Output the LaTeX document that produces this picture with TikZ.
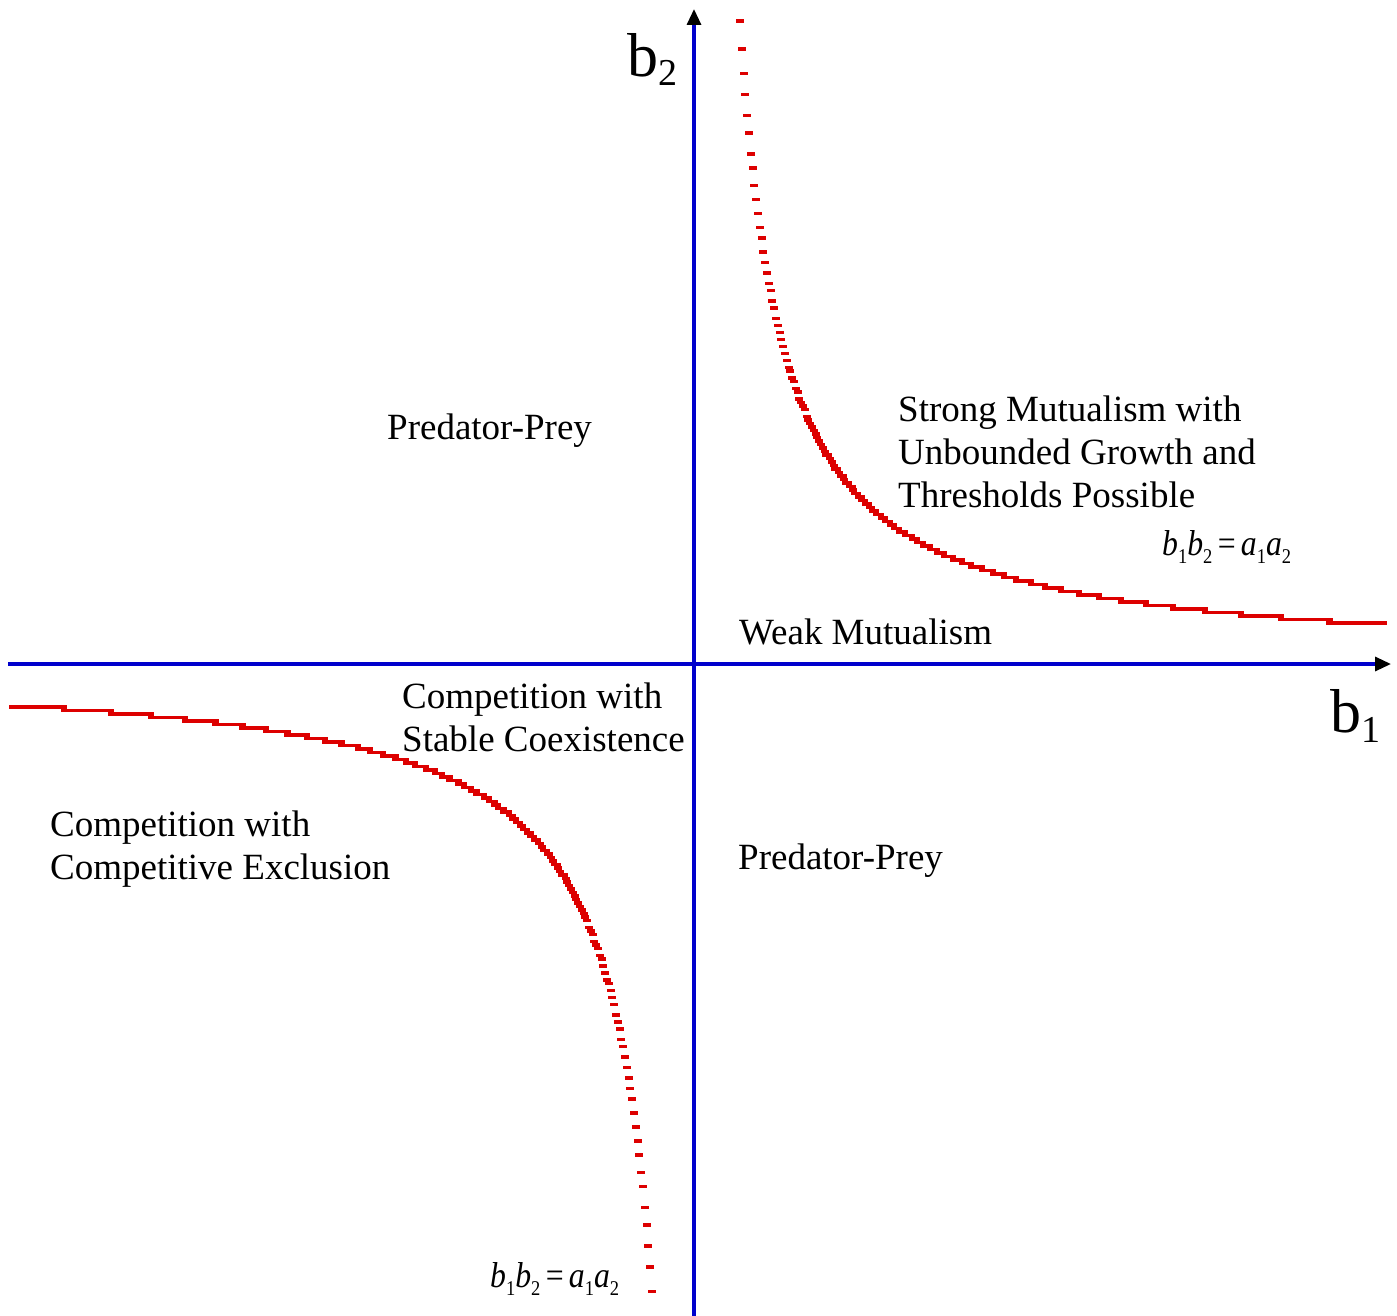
\documentclass[tikz,border=0pt]{standalone}
\usepackage{fontspec}
\usepackage{graphicx}
\setmainfont{Liberation Serif}
\usetikzlibrary{arrows.meta}
\definecolor{axisblue}{RGB}{0,0,204}
\definecolor{curvered}{RGB}{221,0,0}
\newcommand{\subsz}[1]{\raisebox{-8pt}{\fontsize{21}{24}\selectfont #1}}
\newcommand{\myeq}{\resizebox{129pt}{\height}{\fontsize{36}{40}\selectfont\textit{b}\subsz{1}\textit{b}\subsz{2}\,=\,\textit{a}\subsz{1}\textit{a}\subsz{2}}}
\tikzset{
  lbl/.style={anchor=base west, inner sep=0pt, font=\fontsize{37}{43}\selectfont},
  axislbl/.style={anchor=base west, inner sep=0pt, font=\fontsize{62}{70}\selectfont},
  axisline/.style={draw=axisblue, line width=3.2pt, -{Triangle[length=16pt,width=14pt,color=black]}},
  curvedash/.style={fill=curvered},
}
\begin{document}
\begin{tikzpicture}[x=1pt,y=-1pt]
\useasboundingbox (0,0) rectangle (1397,1316);
% axes
\coordinate (ybot) at (694,1316);
\coordinate (ytop) at (694,9);
\coordinate (xleft) at (8,664);
\coordinate (xright) at (1391,664);
\draw[axisline] (xleft) -- (xright);
\draw[axisline] (ybot) -- (ytop);
% curves
\foreach \i in {0,...,357}{
  \pgfmathsetmacro\xx{740+1.8*\i}
  \pgfmathsetmacro\yy{3.5*round((664-100*(270/(\xx-698)))/3.5)}
  \fill[curvedash] (\xx-4,\yy-1.8) rectangle (\xx+4,\yy+1.8);
}
\foreach \i in {0,...,356}{
  \pgfmathsetmacro\xx{13+1.8*\i}
  \pgfmathsetmacro\yy{3.5*round((664+100*(283/(697-\xx)))/3.5)}
  \fill[curvedash] (\xx-4,\yy-1.8) rectangle (\xx+4,\yy+1.8);
}
% axis labels
\node[axislbl] (b2) at (627,77) {b\raisebox{-9pt}{\fontsize{38}{40}\selectfont 2}};
\node[axislbl] (b1) at (1330,732) {b\raisebox{-10pt}{\fontsize{38}{40}\selectfont 1}};
% region labels
\node[lbl] (pp1) at (387,439) {Predator-Prey};
\node[lbl] (sm1) at (898,421) {Strong Mutualism with};
\node[lbl] (sm2) at (898,464) {Unbounded Growth and};
\node[lbl] (sm3) at (898,507) {Thresholds Possible};
\node[lbl] (wm) at (739,644) {Weak Mutualism};
\node[lbl] (cs1) at (402,708) {Competition with};
\node[lbl] (cs2) at (402,751) {Stable Coexistence};
\node[lbl] (ce1) at (50,836) {Competition with};
\node[lbl] (ce2) at (50,879) {Competitive Exclusion};
\node[lbl] (pp2) at (738,869) {Predator-Prey};
% equations
\node[anchor=base west, inner sep=0pt] (eq1) at (1162,555) {\myeq};
\node[anchor=base west, inner sep=0pt] (eq2) at (490,1287) {\myeq};
\end{tikzpicture}
\end{document}
